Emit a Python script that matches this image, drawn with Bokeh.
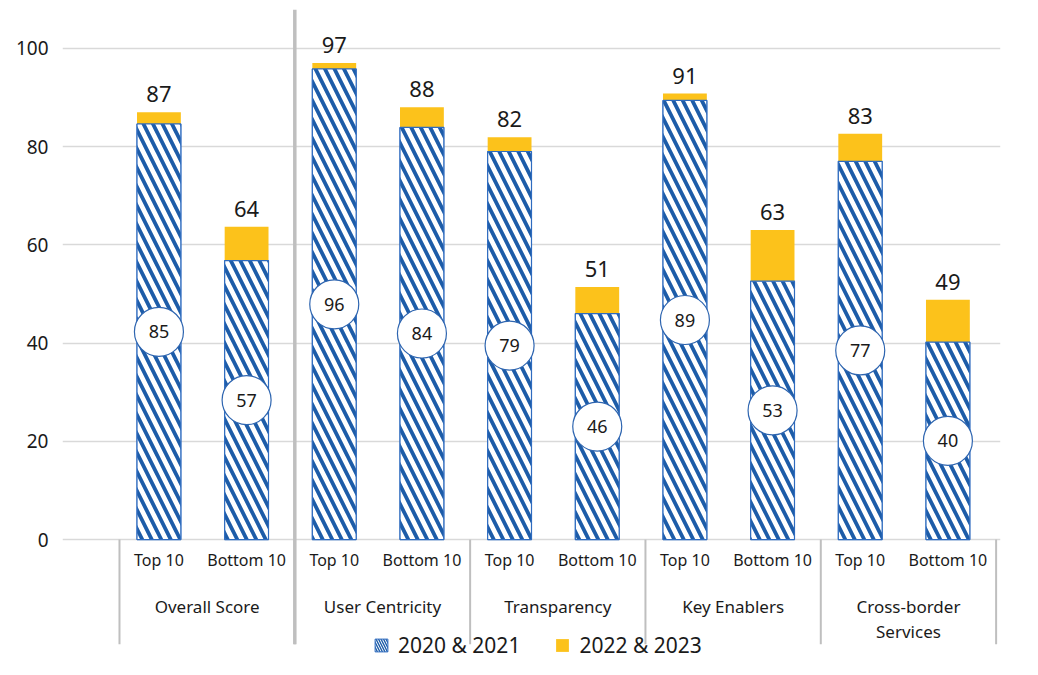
from bokeh.plotting import figure
from bokeh.models import (ColumnDataSource, Range1d, FixedTicker, Legend, LegendItem)
from bokeh.core.properties import value
from bokeh.embed import file_html
from bokeh.resources import INLINE

# ---------------- data ----------------
groups = ["Overall Score", "User Centricity", "Transparency", "Key Enablers", "Cross-border\nServices"]
subgroups = ["Top 10", "Bottom 10"]
score_2020_2021 = [84.6, 56.8, 95.8, 83.9, 79.0, 46.0, 89.4, 52.6, 77.0, 40.2]
score_2022_2023 = [87.0, 63.7, 97.0, 88.0, 81.9, 51.4, 90.8, 63.0, 82.6, 48.8]
y_ticks = [0, 20, 40, 60, 80, 100]
series_names = ["2020 & 2021", "2022 & 2023"]

# ---------------- style ----------------
FONT_NAME = "Noto Sans"
FONT = value(FONT_NAME)
TXT = "#1a1a1a"
BLUE = "#1d5ca8"
YELLOW = "#FCC21B"
GRID = "#d9d9d9"
SEP = "#bfbfbf"
BAR_OFFSET = 0.45
Y_MIN, Y_MAX = -24.4, 107.9
Y_SEP = -21.3

n = len(score_2020_2021)
xs = [i + BAR_OFFSET for i in range(n)]
cats = [subgroups[i % 2] for i in range(n)]
src = ColumnDataSource(dict(
    x=xs,
    base=score_2020_2021,
    total=score_2022_2023,
    mid=[v / 2 for v in score_2020_2021],
    base_lbl=[f"{v:.0f}" for v in score_2020_2021],
    total_lbl=[f"{v:.0f}" for v in score_2022_2023],
    cat=cats,
))

p = figure(width=1022, height=659, x_range=Range1d(-0.65, 10.05), y_range=Range1d(Y_MIN, Y_MAX),
           output_backend="svg", toolbar_location=None, x_axis_type=None,
           min_border_left=62, min_border_right=22, min_border_top=9, min_border_bottom=0)
p.outline_line_color = None
p.background_fill_color = "white"
p.xgrid.visible = False
p.ygrid.grid_line_color = GRID
p.ygrid.grid_line_width = 1.5

ax = p.yaxis[0]
ax.ticker = FixedTicker(ticks=y_ticks)
ax.axis_line_color = None
ax.major_tick_line_color = None
ax.minor_tick_line_color = None
ax.major_label_text_font = FONT_NAME
ax.major_label_text_font_size = "19px"
ax.major_label_text_color = TXT
ax.major_label_standoff = 8

# separators under the category axis
n_groups = len(groups)
sep_x = [2 * k for k in range(n_groups + 1)]
p.segment(x0=sep_x, y0=[0] * len(sep_x), x1=sep_x, y1=[Y_SEP] * len(sep_x),
          line_color=SEP, line_width=2)
# thick divider after the overall score
p.segment(x0=[sep_x[1]], y0=[Y_SEP], x1=[sep_x[1]], y1=[Y_MAX], line_color=SEP, line_width=3.5)

# legend swatch renderer (finer hatch), fully covered by the real bars drawn on top
r_leg = p.vbar(x="x", bottom=0, top="base", width=0.5, source=src, fill_color="white",
               line_color="#2e6bbf", line_width=1, hatch_pattern="\\", hatch_color=BLUE,
               hatch_scale=5, hatch_weight=1.4)

# stacked bars
r_top = p.vbar(x="x", bottom="base", top="total", width=0.5, source=src,
               fill_color=YELLOW, line_color=None)
r_base = p.vbar(x="x", bottom=0, top="base", width=0.5, source=src,
                fill_color="white", line_color="#2e6bbf", line_width=1.2,
                hatch_pattern="\\", hatch_color=BLUE, hatch_scale=19, hatch_weight=3.8)

# circle labels
p.scatter(x="x", y="mid", source=src, size=49, marker="circle", fill_color="white",
          line_color="#2e65b0", line_width=1.2)
p.text(x="x", y="mid", text="base_lbl", source=src, text_align="center", text_baseline="middle",
       text_font=FONT, text_font_size="18px", text_color=TXT)

# totals above bars
p.text(x="x", y="total", text="total_lbl", source=src, text_align="center",
       text_baseline="alphabetic", y_offset=-18, text_font=FONT, text_font_size="22px",
       text_color=TXT)

# category labels
p.text(x="x", y=-4.1, text="cat", source=src, text_align="center", text_baseline="middle",
       text_font=FONT, text_font_size="16px", text_color=TXT)
grp_x = [2 * k + 1 for k in range(n_groups)]
p.text(x=grp_x, y=[-11.2] * n_groups, text=groups, text_align="center", text_baseline="top",
       text_font=FONT, text_font_size="17px", text_color=TXT, text_line_height=1.1)

legend = Legend(items=[LegendItem(label=series_names[0], renderers=[r_leg], index=0),
                       LegendItem(label=series_names[1], renderers=[r_top], index=0)],
                orientation="horizontal", location=(311, 0),
                label_text_font=FONT_NAME, label_text_font_size="21px", label_text_color=TXT,
                glyph_width=16, glyph_height=16, spacing=34, padding=0, margin=0,
                label_standoff=9, border_line_color=None, background_fill_alpha=0)
p.add_layout(legend)

open("out.html", "w").write(file_html(p, INLINE))
